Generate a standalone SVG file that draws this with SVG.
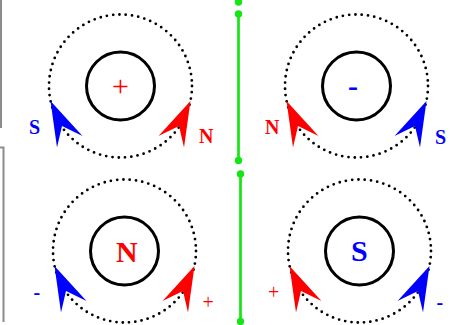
<svg xmlns="http://www.w3.org/2000/svg" xmlns:xlink="http://www.w3.org/1999/xlink" width="461" height="325" viewBox="0 0 461 325">
<style>
.dots{fill:none;stroke:#000;stroke-width:2.8;stroke-linecap:round;stroke-dasharray:0 6.327}
.core{fill:none;stroke:#000;stroke-width:3}
.big{font-family:"Liberation Serif","Times New Roman",serif;font-size:30px}
.sm{font-family:"Liberation Serif","Times New Roman",serif;font-size:20px}
.b{font-weight:bold}
.red{fill:#ff0000}
.blue{fill:#0000ff}
.gl{stroke:#14e614;stroke-width:2.7}
.gd{fill:#14e614}
.gray{stroke:#8c8c8c;stroke-width:2;fill:none}
</style>
<defs>
<polygon id="arrL" points="-70,15 -63.5,61.5 -58.5,40 -38,50"/>
<polygon id="arrR" points="70,15 63.5,61.5 58.5,40 38,50"/>
</defs>
<g id="frame">
<line class="gray" x1="1" y1="0" x2="1" y2="128"/>
<polyline class="gray" points="0,147.5 3.5,147.5 3.5,322"/>
</g>
<g id="connectors">
<circle class="gd" cx="238.5" cy="2" r="3.7"/>
<line class="gl" x1="238.5" y1="14" x2="238.5" y2="160.5"/>
<circle class="gd" cx="238.5" cy="14" r="3.7"/>
<circle class="gd" cx="238.5" cy="160.5" r="3.7"/>
<line class="gl" x1="240.5" y1="174" x2="240.5" y2="321.5"/>
<circle class="gd" cx="240.5" cy="174" r="3.7"/>
<circle class="gd" cx="240.5" cy="321.5" r="3.7"/>
</g>
<g id="panel-plus" transform="translate(120.5,86)">
<circle class="dots" r="71.5"/>
<circle class="core" r="34"/>
<use xlink:href="#arrL" class="blue"/>
<use xlink:href="#arrR" class="red"/>
<text class="big red" x="-8.5" y="10">+</text>
<text class="sm b blue" x="-91.5" y="48">S</text>
<text class="sm b red" x="78.5" y="57">N</text>
</g>
<g id="panel-minus" transform="translate(356.5,86)">
<circle class="dots" r="71.5"/>
<circle class="core" r="34"/>
<use xlink:href="#arrL" class="red"/>
<use xlink:href="#arrR" class="blue"/>
<text class="big b blue" x="-8.5" y="10">-</text>
<text class="sm b red" x="-91.5" y="47.5">N</text>
<text class="sm b blue" x="78.5" y="58">S</text>
</g>
<g id="panel-N" transform="translate(124.5,251)">
<circle class="dots" r="71.5"/>
<circle class="core" r="34"/>
<use xlink:href="#arrL" class="blue"/>
<use xlink:href="#arrR" class="red"/>
<text class="big b red" x="-8.5" y="10.5">N</text>
<text class="sm b blue" x="-91" y="47.5">-</text>
<text class="sm red" x="78" y="57.5">+</text>
</g>
<g id="panel-S" transform="translate(359.5,251)">
<circle class="dots" r="71.5"/>
<circle class="core" r="34"/>
<use xlink:href="#arrL" class="red"/>
<use xlink:href="#arrR" class="blue"/>
<text class="big b blue" x="-8.5" y="10">S</text>
<text class="sm red" x="-91.5" y="47.5">+</text>
<text class="sm b blue" x="77" y="58">-</text>
</g>
</svg>
